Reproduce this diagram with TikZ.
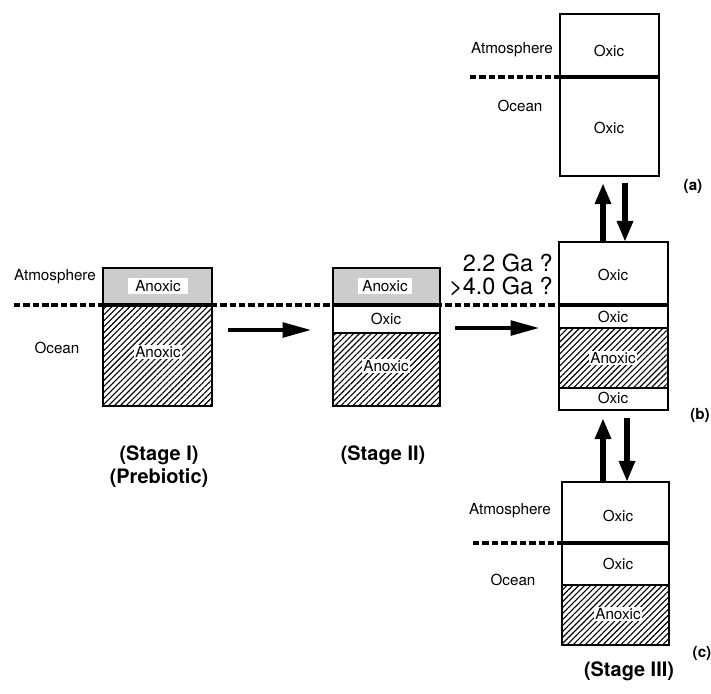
\documentclass[tikz,border=0pt]{standalone}
\usepackage{fontspec}
\setmainfont{TeX Gyre Heros}
\usetikzlibrary{
    arrows.meta,
    patterns.meta,
    positioning
}
\tikzset{
  box/.style={draw, line width=1.7pt},
  rim/.style={line width=3pt},
  split/.style={line width=1.3pt},
  air/.style={fill=black!20},
  hatch/.style={pattern={Lines[angle=45,distance=3.6pt,line width=0.95pt]}},
  sealevel/.style={line width=3pt, dash pattern=on 5.5pt off 2.5pt},
  tag/.style={font=\fontsize{13}{15}\selectfont, inner sep=1pt},
  tagw/.style={tag, fill=white},
  stage/.style={font=\fontsize{17}{20}\selectfont\bfseries},
  case/.style={font=\fontsize{13}{15}\selectfont\bfseries},
  age/.style={font=\fontsize{20}{24}\selectfont, anchor=east, inner sep=0pt},
  flow/.style={line width=4.2pt, -{Triangle[length=25pt,width=12pt]}},
  lift/.style={line width=4.8pt, -{Triangle[length=18pt,width=13pt]}}
}

\begin{document}
\begin{tikzpicture}[x=0.03cm,y=-0.03cm]
\useasboundingbox (0,0) rectangle (711,693);

% fills
\fill[air] (103,268) rectangle (212,305);
\fill[hatch] (103,305) rectangle (212,406);
\fill[air] (333,268) rectangle (440,305);
\fill[hatch] (333,333) rectangle (440,406);
\fill[hatch] (559,328) rectangle (668,388);
\fill[hatch] (562,585) rectangle (669,645);

% sea level
\draw[sealevel] (14,305) -- (559,305);
\draw[sealevel] (470,77) -- (560,77);
\draw[sealevel] (473,543) -- (562,543);

% stage I
\draw[box] (103,268) rectangle (212,406);
\draw[rim] (103,305) -- (212,305);
\node[tag] (atm1) at (55,277) {Atmosphere};
\node[tag] (sea1) at (57,348) {Ocean};
\node[tagw, inner xsep=6pt, inner ysep=2pt] (s1air) at (158,286) {Anoxic};
\node[tagw] (s1sea) at (158,352) {Anoxic};
\node[stage] (st1) at (159,455) {(Stage I)};
\node[stage] (st1b) at (159,478) {(Prebiotic)};

% stage II
\draw[box] (333,268) rectangle (440,406);
\draw[rim] (333,305) -- (440,305);
\draw[split] (333,333) -- (440,333);
\node[tagw, inner xsep=4pt, inner ysep=2pt] (s2air) at (385,286) {Anoxic};
\node[tag] (s2top) at (386,319) {Oxic};
\node[tagw] (s2sea) at (386,366) {Anoxic};
\node[stage] (st2) at (383,455) {(Stage II)};

% box (b)
\draw[box] (559,242) rectangle (668,410);
\draw[rim] (559,305) -- (668,305);
\draw[split] (559,328) -- (668,328);
\draw[split] (559,388) -- (668,388);
\node[tag] (bair) at (613,275) {Oxic};
\node[tag] (btop) at (613,317) {Oxic};
\node[tagw] (bmid) at (613,358) {Anoxic};
\node[tag] (bbot) at (613,398) {Oxic};
\node[age] (ga1) at (553,263) {2.2 Ga ?};
\node[age] (ga2) at (553,287) {>4.0 Ga ?};
\node[case] (capb) at (700,415) {(b)};

% box (a)
\draw[box] (560,14) rectangle (659,176);
\draw[rim] (560,77) -- (659,77);
\node[tag] (atma) at (512,50) {Atmosphere};
\node[tag] (seaa) at (520,106) {Ocean};
\node[tag] (aair) at (609,51) {Oxic};
\node[tag] (asea) at (609,128) {Oxic};
\node[case] (capa) at (693,186) {(a)};

% box (c)
\draw[box] (562,482) rectangle (669,645);
\draw[rim] (562,543) -- (669,543);
\draw[split] (562,585) -- (669,585);
\node[tag] (atmc) at (510,511) {Atmosphere};
\node[tag] (seac) at (513,580) {Ocean};
\node[tag] (cair) at (618,516) {Oxic};
\node[tag] (ctop) at (618,564) {Oxic};
\node[tagw] (cbot) at (618,614) {Anoxic};
\node[case] (capc) at (702,653) {(c)};
\node[stage] (st3) at (629,671) {(Stage III)};

% arrows
\coordinate (s1out) at (228,330);
\coordinate (s2in) at (312,330);
\coordinate (s2out) at (455,328);
\coordinate (bin) at (540,328);
\draw[flow] (s1out) -- (s2in);
\draw[flow] (s2out) -- (bin);

\coordinate (bupA) at (603,242);
\coordinate (aupA) at (603,183);
\coordinate (adnA) at (625,183);
\coordinate (bdnA) at (625,242);
\draw[lift] (bupA) -- (aupA);
\draw[lift] (adnA) -- (bdnA);

\coordinate (cupC) at (603,482);
\coordinate (bupC) at (603,418);
\coordinate (bdnC) at (627,418);
\coordinate (cdnC) at (627,482);
\draw[lift] (cupC) -- (bupC);
\draw[lift] (bdnC) -- (cdnC);
\end{tikzpicture}
\end{document}
